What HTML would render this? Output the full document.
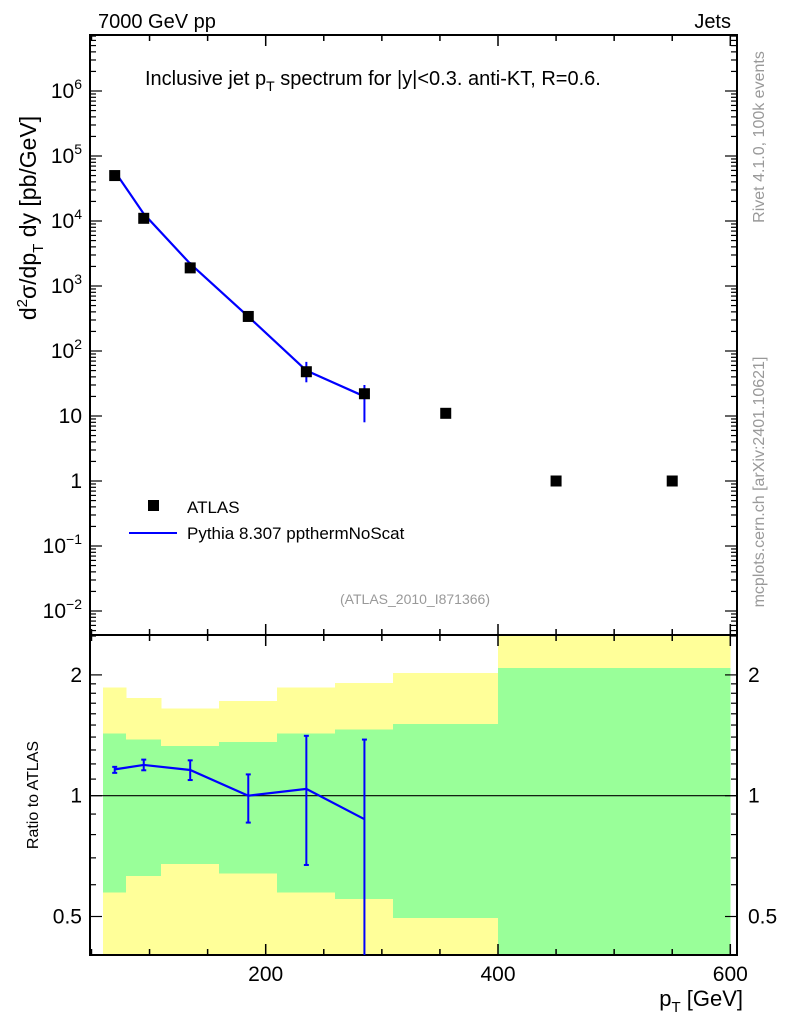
<!DOCTYPE html>
<html><head><meta charset="utf-8"><style>
body{margin:0;background:#fff;}
svg{display:block;font-family:"Liberation Sans",Arial,sans-serif;}
</style></head><body>
<svg id="c" width="786" height="1024" viewBox="0 0 786 1024" xmlns="http://www.w3.org/2000/svg"></svg>
<script>
// ---- data ----
const binEdges = [60, 80, 110, 160, 210, 260, 310, 400, 500, 600];
const dataX = [70, 95, 135, 185, 235, 285, 355, 450, 550];
const dataY = [50000, 11000, 1900, 340, 48, 22, 11, 1, 1];
const mcX = [70, 95, 135, 185, 235, 285];
const mcY = [58000, 12900, 2200, 338, 50, 20];
const mcErrLo = [57000, 12700, 2080, 290, 33, 8];
const mcErrHi = [59000, 13300, 2330, 384, 68, 30];
const ratio = [1.163, 1.193, 1.159, 1.0, 1.04, 0.874];
const ratioLo = [1.14, 1.157, 1.094, 0.857, 0.672, 0.3];
const ratioHi = [1.18, 1.23, 1.225, 1.13, 1.41, 1.38];
const greenLo = [0.573, 0.63, 0.676, 0.64, 0.573, 0.553, 0.496, 0.3, 0.3];
const greenHi = [1.43, 1.38, 1.33, 1.36, 1.43, 1.46, 1.51, 2.08, 2.08];
const yellowLo = [0.3, 0.3, 0.3, 0.3, 0.3, 0.3, 0.3, 0.3, 0.3];
const yellowHi = [1.86, 1.75, 1.65, 1.72, 1.86, 1.91, 2.02, 3, 3];
const xTicks = [200, 400, 600];
const mainTicks = [-2, -1, 0, 1, 2, 3, 4, 5, 6];
const mainTickLabels = ["10<tspan dy='-9' font-size='14'>−2</tspan>", "10<tspan dy='-9' font-size='14'>−1</tspan>", "1", "10", "10<tspan dy='-9' font-size='14'>2</tspan>", "10<tspan dy='-9' font-size='14'>3</tspan>", "10<tspan dy='-9' font-size='14'>4</tspan>", "10<tspan dy='-9' font-size='14'>5</tspan>", "10<tspan dy='-9' font-size='14'>6</tspan>"];
const ratioTicks = [0.5, 1, 2];
const ratioTickLabels = ["0.5", "1", "2"];

// ---- geometry ----
const L = 90, R = 737, T = 35, MB = 635, RB = 955;
const sx = v => 265.7 + (v - 200) * 1.1615;
const sy = v => 416 - (Math.log10(v) - 1) * 65;
const ry = v => 795.7 - Math.log2(v) * 120.8;
const clampR = y => Math.max(MB, Math.min(RB, y));
const svg = document.getElementById('c');
const NS = 'http://www.w3.org/2000/svg';
function mk(tag, attrs, parent) {
  const e = document.createElementNS(NS, tag);
  for (const k in attrs) e.setAttribute(k, attrs[k]);
  (parent || svg).appendChild(e); return e;
}

// bands
for (let i = 0; i < binEdges.length - 1; i++) {
  const x0 = Math.round(sx(binEdges[i])), x1 = Math.round(sx(binEdges[i + 1]));
  const y0 = clampR(ry(yellowHi[i])), y1 = clampR(ry(yellowLo[i]));
  const yb = mk('rect', {x: x0, y: y0, width: x1 - x0 + 0.5, height: y1 - y0, fill: '#ffff99', 'shape-rendering': 'crispEdges'});
  
  
  const g0 = clampR(ry(greenHi[i])), g1 = clampR(ry(greenLo[i]));
  const gb = mk('rect', {x: x0, y: g0, width: x1 - x0 + 0.5, height: g1 - g0, fill: '#99ff99', 'shape-rendering': 'crispEdges'});
  
  
}
// ratio 1 line
const one = mk('line', {x1: L, x2: R, y1: ry(1), y2: ry(1), stroke: '#000', 'stroke-width': 1.2});



// frames
const f1 = mk('rect', {x: L, y: T, width: R - L, height: MB - T, fill: 'none', stroke: '#000', 'stroke-width': 2});


const f2 = mk('rect', {x: L, y: MB, width: R - L, height: RB - MB, fill: 'none', stroke: '#000', 'stroke-width': 2});



// x ticks
for (let v = 50; v <= 600; v += 50) {
  const x = sx(v); const maj = v % 200 === 0;
  const len = maj ? 11 : 6;
  [[T, 1], [MB, -1], [MB, 1], [RB, -1]].forEach(([y, d]) => mk('line', {x1: x, x2: x, y1: y, y2: y + d * len, stroke: '#000', 'stroke-width': 1.5}));
}
xTicks.forEach(v => {
  const t = mk('text', {x: sx(v), y: 981, 'font-size': 21, 'text-anchor': 'middle'});
  t.textContent = v;
  
  
});
// main y ticks
for (let d = -3; d <= 7; d++) {
  for (let m = 1; m < 10; m++) {
    const y = sy(m * Math.pow(10, d));
    if (y < T || y > MB) continue;
    const len = m === 1 ? 12 : 6;
    mk('line', {x1: L, x2: L + len, y1: y, y2: y, stroke: '#000', 'stroke-width': 1.2});
    mk('line', {x1: R, x2: R - len, y1: y, y2: y, stroke: '#000', 'stroke-width': 1.2});
  }
}
mainTicks.forEach((d, i) => {
  const t = mk('text', {x: 82, y: sy(Math.pow(10, d)) + 7, 'font-size': 21, 'text-anchor': 'end'});
  t.innerHTML = mainTickLabels[i];
  
  
});
// ratio y ticks
[0.4,0.5,0.6,0.7,0.8,0.9,1,1.1,1.2,1.3,1.4,1.5,1.6,1.7,1.8,1.9,2,2.5].forEach(v => {
  const y = ry(v); if (y < MB || y > RB) return;
  const len = ratioTicks.includes(v) ? 12 : 6;
  mk('line', {x1: L, x2: L + len, y1: y, y2: y, stroke: '#000', 'stroke-width': 1.2});
  mk('line', {x1: R, x2: R - len, y1: y, y2: y, stroke: '#000', 'stroke-width': 1.2});
});
ratioTicks.forEach((v, i) => {
  [[82, 'end'], [748, 'start']].forEach(([x, a]) => {
    const t = mk('text', {x: x, y: ry(v) + 7, 'font-size': 21, 'text-anchor': a});
    t.textContent = ratioTickLabels[i];
    
    
  });
});

// MC line main
const pts = mcX.map((x, i) => sx(x) + ',' + sy(mcY[i])).join(' ');
const ml = mk('polyline', {points: pts, fill: 'none', stroke: '#0000ff', 'stroke-width': 2.2});


mcX.forEach((x, i) => {
  const e = mk('line', {x1: sx(x), x2: sx(x), y1: sy(mcErrLo[i]), y2: sy(mcErrHi[i]), stroke: '#0000ff', 'stroke-width': 2});
  
  
});
// data points
dataX.forEach((x, i) => {
  const r = mk('rect', {x: sx(x) - 5.5, y: sy(dataY[i]) - 5.5, width: 11, height: 11, fill: '#000'});
  
  
});
// ratio line
const rpts = mcX.map((x, i) => sx(x) + ',' + ry(ratio[i])).join(' ');
const rl = mk('polyline', {points: rpts, fill: 'none', stroke: '#0000ff', 'stroke-width': 2.2});


mcX.forEach((x, i) => {
  const y1 = clampR(ry(ratioLo[i])), y2 = clampR(ry(ratioHi[i])), X = sx(x);
  const e = mk('line', {x1: X, x2: X, y1: y1, y2: y2, stroke: '#0000ff', 'stroke-width': 2});
  
  
  [y1, y2].forEach(y => { if (y > MB && y < RB) mk('line', {x1: X - 2.5, x2: X + 2.5, y1: y, y2: y, stroke: '#0000ff', 'stroke-width': 2}); });
});
</script>
<svg style="position:absolute;left:0;top:0" width="786" height="1024" xmlns="http://www.w3.org/2000/svg" font-family="Liberation Sans, Arial, sans-serif">
  <text x="98" y="28" font-size="20">7000 GeV pp</text>
  <text x="731" y="28" font-size="20" text-anchor="end">Jets</text>
  <text x="145" y="85" font-size="20">Inclusive jet p<tspan dy="6" font-size="14">T</tspan><tspan dy="-6"> spectrum for |y|&lt;0.3.  anti-KT, R=0.6.</tspan></text>
  <rect x="148" y="500" width="11" height="11" fill="#000"/>
  <text x="187" y="513" font-size="17">ATLAS</text>
  <line x1="129" x2="177" y1="533" y2="533" stroke="#0000ff" stroke-width="2"/>
  <text x="187" y="539" font-size="17">Pythia 8.307 ppthermNoScat</text>
  <text x="415" y="604" font-size="14" fill="#999" text-anchor="middle">(ATLAS_2010_I871366)</text>
  <text transform="translate(36,218) rotate(-90)" font-size="23" text-anchor="middle">d<tspan dy="-9" font-size="15">2</tspan><tspan dy="9">σ/dp</tspan><tspan dy="7" font-size="15">T</tspan><tspan dy="-7"> dy [pb/GeV]</tspan></text>
  <text transform="translate(38,795) rotate(-90)" font-size="16" text-anchor="middle">Ratio to ATLAS</text>
  <text x="743" y="1006" font-size="22" text-anchor="end">p<tspan dy="6" font-size="15">T</tspan><tspan dy="-6"> [GeV]</tspan></text>
  <text transform="translate(764,137) rotate(-90)" font-size="16" fill="#999" text-anchor="middle">Rivet 4.1.0,  100k events</text>
  <text transform="translate(764,482) rotate(-90)" font-size="16" fill="#999" text-anchor="middle">mcplots.cern.ch [arXiv:2401.10621]</text>
</svg>
</body></html>
